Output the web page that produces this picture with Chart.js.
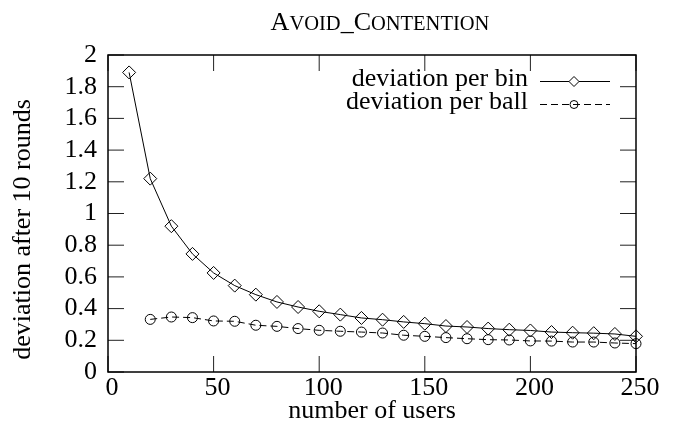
<!DOCTYPE html>
<html>
<head>
<meta charset="utf-8">
<script src="https://cdn.jsdelivr.net/npm/chart.js@4.4.1/dist/chart.umd.min.js"></script>
<style>
  html, body { margin: 0; padding: 0; background: #fff; }
  #wrap { position: relative; width: 679px; height: 443px; }
  #title {
    position: absolute; left: 0; top: 9px; width: 760px;
    text-align: center; font-family: 'Liberation Serif', serif;
    font-size: 26px; line-height: 25px; color: #000; white-space: nowrap;
  }
  #title .sc { font-size: 20.5px; }
  canvas { position: absolute; left: 0; top: 0; }
</style>
</head>
<body>
<div id="wrap">
  <canvas id="chart" width="679" height="443"></canvas>
  <div id="title">A<span class="sc">VOID</span>_C<span class="sc">ONTENTION</span></div>
</div>
<script>
// number of users (x) and the two measured deviations
const users = [10, 20, 30, 40, 50, 60, 70, 80, 90, 100, 110, 120, 130,
  140, 150, 160, 170, 180, 190, 200, 210, 220, 230, 240, 250];
const binDev = [1.89, 1.22, 0.92, 0.745, 0.625, 0.545, 0.488, 0.442, 0.41, 0.383,
  0.362, 0.341, 0.33, 0.316, 0.305, 0.29, 0.284, 0.274, 0.267, 0.262,
  0.252, 0.248, 0.245, 0.24, 0.225];
const ballDev = [null, 0.332, 0.347, 0.343, 0.322, 0.32, 0.295, 0.288, 0.274, 0.263,
  0.257, 0.252, 0.246, 0.232, 0.225, 0.217, 0.21, 0.204, 0.202, 0.196,
  0.195, 0.189, 0.189, 0.183, 0.179];
const xTicks = [0, 50, 100, 150, 200, 250];
const yTicks = [0, 0.2, 0.4, 0.6, 0.8, 1, 1.2, 1.4, 1.6, 1.8, 2];
const yTitle = 'deviation after 10 rounds';

const FONT = { family: "'Liberation Serif', serif", size: 26 };
const toPoints = vals => users.map((u, i) => ({ x: u, y: vals[i] }));

// gnuplot style box with inward ticks on all four sides
const framePlugin = {
  id: 'frame',
  beforeDatasetsDraw(chart) {
    const { ctx, chartArea: a, scales: { x, y } } = chart;
    const T = 16;
    ctx.save();
    ctx.strokeStyle = '#222';
    ctx.lineWidth = 1;
    ctx.beginPath();
    xTicks.forEach(v => {
      const px = x.getPixelForValue(v);
      ctx.moveTo(px, a.bottom); ctx.lineTo(px, a.bottom - T);
      ctx.moveTo(px, a.top); ctx.lineTo(px, a.top + T);
    });
    yTicks.forEach(v => {
      const py = y.getPixelForValue(v);
      ctx.moveTo(a.left, py); ctx.lineTo(a.left + T, py);
      ctx.moveTo(a.right, py); ctx.lineTo(a.right - T, py);
    });
    ctx.stroke();
    ctx.strokeStyle = '#000';
    ctx.lineWidth = 1.5;
    ctx.strokeRect(a.left, a.top, a.right - a.left, a.bottom - a.top);
    ctx.restore();

    // y axis title, sits a little below the plot centre like the original
    ctx.save();
    ctx.fillStyle = '#000';
    ctx.font = FONT.size + 'px ' + FONT.family;
    ctx.translate(23, (a.top + a.bottom) / 2 + 16);
    ctx.rotate(-Math.PI / 2);
    ctx.textAlign = 'center';
    ctx.textBaseline = 'middle';
    ctx.fillText(yTitle, 0, 0);
    ctx.restore();
  }
};

// key in the top right: label, then sample line with marker
const keyPlugin = {
  id: 'key',
  afterDatasetsDraw(chart) {
    const { ctx, chartArea: a } = chart;
    ctx.save();
    chart.data.datasets.forEach((ds, i) => {
      const yy = a.top + 26.5 + i * 23;
      ctx.fillStyle = '#000';
      ctx.font = FONT.size + 'px ' + FONT.family;
      ctx.textAlign = 'right';
      ctx.textBaseline = 'alphabetic';
      ctx.fillText(ds.label, a.right - 108, yy + 4);
      ctx.strokeStyle = ds.borderColor;
      ctx.lineWidth = 1;
      ctx.setLineDash(ds.borderDash || []);
      ctx.beginPath();
      ctx.moveTo(a.right - 96, yy); ctx.lineTo(a.right - 26, yy);
      ctx.stroke();
      ctx.setLineDash([]);
      const mx = a.right - 62;
      ctx.fillStyle = '#fff';
      ctx.beginPath();
      if (ds.pointStyle === 'rectRot') {
        const r = 5;
        ctx.moveTo(mx, yy - r); ctx.lineTo(mx + r, yy); ctx.lineTo(mx, yy + r); ctx.lineTo(mx - r, yy); ctx.closePath();
        ctx.fill();
      } else {
        ctx.arc(mx, yy, 4, 0, Math.PI * 2);
      }
      ctx.stroke();
    });
    ctx.restore();
  }
};

new Chart(document.getElementById('chart'), {
  type: 'line',
  data: {
    datasets: [
      {
        label: 'deviation per bin',
        data: toPoints(binDev),
        borderColor: '#000', borderWidth: 1,
        pointStyle: 'rectRot', pointRadius: 6.5,
        pointBackgroundColor: 'rgba(0,0,0,0)', pointBorderColor: '#000', pointBorderWidth: 1,
        tension: 0, clip: false
      },
      {
        label: 'deviation per ball',
        data: toPoints(ballDev),
        borderColor: '#000', borderWidth: 1, borderDash: [7, 4],
        pointStyle: 'circle', pointRadius: 5,
        pointBackgroundColor: 'rgba(0,0,0,0)', pointBorderColor: '#000', pointBorderWidth: 1,
        tension: 0, clip: false
      }
    ]
  },
  options: {
    responsive: false,
    animation: false,
    events: [],
    layout: { padding: { top: 55, right: 43, left: 0, bottom: 0 } },
    plugins: { legend: { display: false }, tooltip: { enabled: false } },
    scales: {
      x: {
        type: 'linear', min: 0, max: 250,
        afterBuildTicks: s => { s.ticks = xTicks.map(v => ({ value: v })); },
        afterFit: s => { s.height = 71; },
        ticks: { font: FONT, color: '#000', padding: 1, labelOffset: 4, maxRotation: 0, autoSkip: false },
        grid: { display: false, drawTicks: false },
        border: { display: false },
        title: { display: true, text: 'number of users', font: FONT, color: '#000', padding: { top: 0, bottom: 16 } }
      },
      y: {
        min: 0, max: 2,
        afterBuildTicks: s => { s.ticks = yTicks.map(v => ({ value: v })); },
        afterFit: s => { s.width = 108; },
        ticks: { font: FONT, color: '#000', padding: 11, autoSkip: false, callback: v => String(Math.round(v * 10) / 10) },
        grid: { display: false, drawTicks: false },
        border: { display: false },
        title: { display: false }
      }
    }
  },
  plugins: [framePlugin, keyPlugin]
});
</script>
</body>
</html>
